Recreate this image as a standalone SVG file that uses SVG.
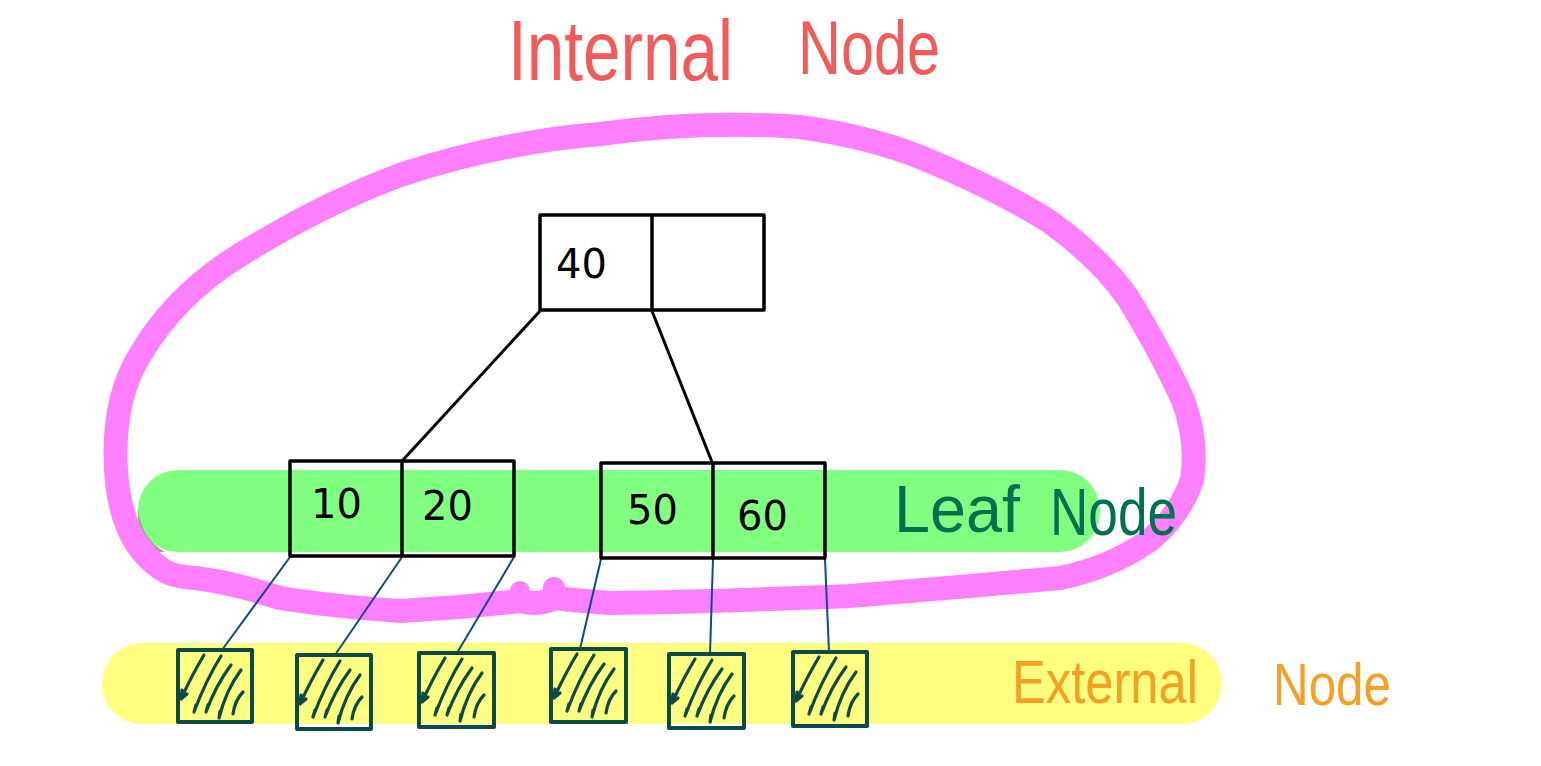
<svg xmlns="http://www.w3.org/2000/svg" xmlns:xlink="http://www.w3.org/1999/xlink" width="1541" height="766" viewBox="0 0 1541 766">
<style>
.box{fill:none;stroke:#000;stroke-width:3.5;stroke-linejoin:round}
.num{font-family:"DejaVu Sans","Liberation Sans",sans-serif;font-size:40px;fill:#000}
.blue{stroke:#0a4a94;stroke-width:2;fill:none}
.black{stroke:#000;stroke-width:3;fill:none}
.ext{fill:none;stroke:#0c4a4a;stroke-width:4;stroke-linejoin:round}
.hatch{fill:none;stroke:#0c4a4a;stroke-width:3.2;stroke-linecap:round;stroke-linejoin:round}
.lbl{font-family:"Liberation Sans","DejaVu Sans",sans-serif}
</style>
<defs>
<g id="h">
<path class="hatch" d="M26,5 Q14,25 3,49 M3,49 L4,40 M3,49 L9,44"/>
<path class="hatch" d="M43,6 Q28,30 16,62 M16,62 L18,55"/>
<path class="hatch" d="M53,15 Q38,35 28,62 M28,62 L30,55"/>
<path class="hatch" d="M63,20 Q48,40 41,68 M41,68 L42,61"/>
<path class="hatch" d="M65,42 Q57,50 55,64"/>
</g>
</defs>
<rect width="1541" height="766" fill="#fff"/>
<g id="bands">
<rect x="102" y="643" width="1120" height="81" rx="40" fill="#ffff80"/>
<rect x="138" y="470" width="962" height="82" rx="40" fill="#80ff80"/>
<path d="M138,508 Q140,538 165,552 L150,552 Q136,530 138,508 Z" fill="#7a7a7a" opacity="0.7"/>
</g>
<g id="internal-loop">
<path d="M160,568 Q120,540 116,470 Q112,400 140,355 Q175,295 240,255 Q320,205 400,175 Q500,142 600,134 Q700,120 800,127 Q870,137 920,157 Q1000,190 1050,222 Q1100,258 1128,298 Q1160,350 1183,400 Q1198,440 1192,480 Q1180,515 1150,540 Q1110,568 1060,578 Q950,588 850,596 Q700,602 610,603 Q570,600 555,598 M555,598 Q540,606 520,601 Q460,608 400,611 Q330,606 280,598 Q230,582 195,578 Q172,577 160,568" fill="none" stroke="#ff80ff" stroke-width="24" stroke-linecap="round" stroke-linejoin="round"/>
<circle cx="520" cy="591" r="10" fill="#ff80ff"/>
<circle cx="554" cy="588" r="11" fill="#ff80ff"/>
</g>
<g id="connectors">
<line class="black" x1="540" y1="311" x2="402" y2="461"/>
<line class="black" x1="652" y1="311" x2="712" y2="462"/>
<line class="blue" x1="290" y1="557" x2="222" y2="650"/>
<line class="blue" x1="402" y1="557" x2="335" y2="655"/>
<line class="blue" x1="514" y1="557" x2="457" y2="653"/>
<line class="blue" x1="601" y1="559" x2="580" y2="649"/>
<line class="blue" x1="713" y1="559" x2="710" y2="654"/>
<line class="blue" x1="825" y1="559" x2="829" y2="652"/>
</g>
<g id="root">
<rect class="box" x="540" y="215" width="224" height="95"/>
<line class="box" x1="652" y1="215" x2="652" y2="310"/>
<text class="num" x="556" y="278">40</text>
</g>
<g id="leaf-left">
<rect class="box" x="290" y="461" width="224" height="95"/>
<line class="box" x1="402" y1="461" x2="402" y2="556"/>
<text class="num" x="311" y="518">10</text>
<text class="num" x="422" y="520">20</text>
</g>
<g id="leaf-right">
<rect class="box" x="601" y="463" width="224" height="95"/>
<line class="box" x1="713" y1="463" x2="713" y2="558"/>
<text class="num" x="627" y="524">50</text>
<text class="num" x="737" y="530">60</text>
</g>
<g id="ext1"><rect class="ext" x="178" y="650" width="74" height="72"/><use xlink:href="#h" x="178" y="650"/></g>
<g id="ext2"><rect class="ext" x="297" y="655" width="74" height="74"/><use xlink:href="#h" x="297" y="655"/></g>
<g id="ext3"><rect class="ext" x="419" y="653" width="75" height="74"/><use xlink:href="#h" x="419" y="653"/></g>
<g id="ext4"><rect class="ext" x="551" y="649" width="75" height="73"/><use xlink:href="#h" x="551" y="649"/></g>
<g id="ext5"><rect class="ext" x="669" y="654" width="75" height="74"/><use xlink:href="#h" x="669" y="654"/></g>
<g id="ext6"><rect class="ext" x="793" y="652" width="74" height="74"/><use xlink:href="#h" x="793" y="652"/></g>
<g id="labels">
<text class="lbl" x="508" y="80" font-size="86" fill="#f55a5a" textLength="225" lengthAdjust="spacingAndGlyphs">Internal</text>
<text class="lbl" x="798" y="74" font-size="76" fill="#f55a5a" textLength="142" lengthAdjust="spacingAndGlyphs">Node</text>
<text class="lbl" x="894" y="532" font-size="66" fill="#007050" textLength="126" lengthAdjust="spacingAndGlyphs">Leaf</text>
<text class="lbl" x="1050" y="535" font-size="66" fill="#007050" textLength="127" lengthAdjust="spacingAndGlyphs">Node</text>
<text class="lbl" x="1012" y="703" font-size="62" fill="#f5a025" textLength="186" lengthAdjust="spacingAndGlyphs">External</text>
<text class="lbl" x="1273" y="705" font-size="60" fill="#f5a025" textLength="118" lengthAdjust="spacingAndGlyphs">Node</text>
</g>
</svg>
